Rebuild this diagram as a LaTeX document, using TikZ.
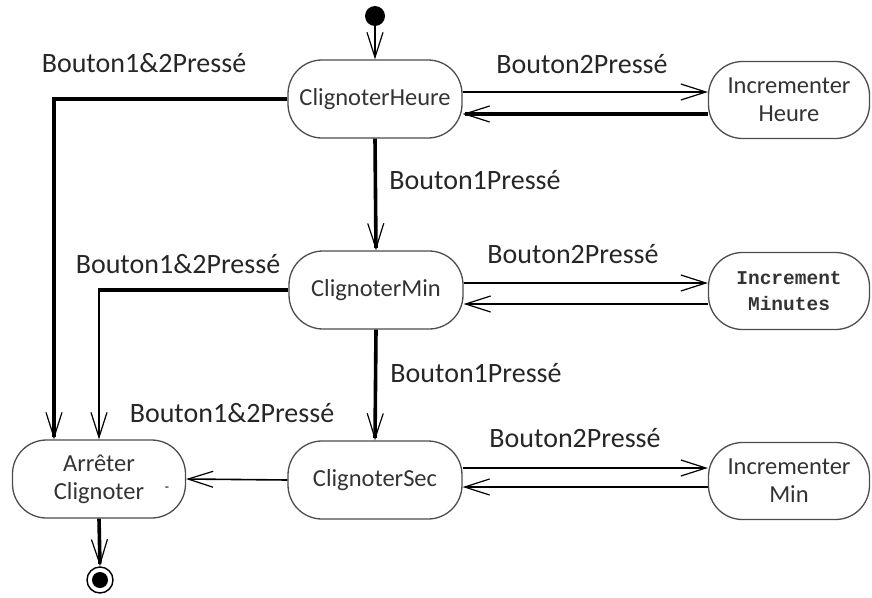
\documentclass[tikz,border=0pt]{standalone}
\usepackage{fontspec}
\setmainfont{Carlito}
\newfontfamily\monofont{Liberation Mono}
\usetikzlibrary{arrows.meta}
\begin{document}
\begin{tikzpicture}[x=1pt,y=-1pt,
  state/.style={draw=black!70, line width=1.3pt, rounded corners=34pt,
    minimum width=174pt, minimum height=78pt, align=center,
    font=\fontsize{24.5}{28}\selectfont, text=black!80, inner sep=0pt},
  incr/.style={state, minimum width=161pt, minimum height=77pt},
  lbl/.style={font=\fontsize{28}{30}\selectfont, text=black!85, inner sep=0pt},
  tip/.style={-{Straight Barb[length=25pt,width=16pt,line width=1.2pt]}},
  thinarrow/.style={line width=1.6pt, tip},
  thickarrow/.style={line width=3.6pt, tip}
]
\useasboundingbox (0,0) rectangle (872,597);

% states
\node[state] (H) at (375,99) {ClignoterHeure};
\node[incr] (IH) at (789,100) {Incrementer\\Heure};
\node[state] (M) at (376,290) {ClignoterMin};
\node[incr, font=\monofont\fontsize{19.5}{26}\selectfont\bfseries] (IM) at (789,291) {Increment\\Minutes};
\node[state] (S) at (375,480) {ClignoterSec};
\node[incr] (IS) at (789,481) {Incrementer\\Min};
\node[state, minimum width=173pt] (A) at (99,479) {Arrêter\\Clignoter};

% initial and final pseudo-states
\node[circle, fill=black, minimum size=20pt, inner sep=0pt] (init) at (375,16) {};
\node[circle, draw=black, line width=1.4pt, minimum size=26pt, inner sep=0pt] (fin) at (100,580) {};
\fill (fin.center) circle (8pt);

% transitions
\draw[thinarrow] (init.south) -- (H.north);
\draw[thinarrow] (H.east |- 0,92) -- (IH.west |- 0,92);
\draw[thickarrow] (IH.west |- 0,114) -- (H.east |- 0,114);
\draw[thinarrow] (M.east |- 0,283) -- (IM.west |- 0,283);
\draw[thinarrow] (IM.west |- 0,304) -- (M.east |- 0,304);
\draw[thinarrow] (S.east |- 0,468) -- (IS.west |- 0,468);
\draw[thinarrow] (IS.west |- 0,487) -- (S.east |- 0,487);
\draw[thinarrow] (S.west) -- (A.east);
\draw[thickarrow] (H.south) -- (M.north);
\draw[thickarrow] (M.south) -- (S.north);
\draw[thickarrow] (H.west) -| ([xshift=-45pt]A.north);
\coordinate (c2) at (A.north |- M.west);
\draw[line width=3.6pt] (M.west) -- ([xshift=-1pt]c2);
\draw[line width=2pt, tip] ([yshift=-1.8pt]c2) -- (A.north);
\draw[thickarrow] (A.south) -- (fin.north);

% guard labels
\node[lbl] (l1) at (144,63) {Bouton1\&2Pressé};
\node[lbl] (l2) at (582,64) {Bouton2Pressé};
\node[lbl] (l3) at (475,180) {Bouton1Pressé};
\node[lbl] (l4) at (178,264) {Bouton1\&2Pressé};
\node[lbl] (l5) at (573,254) {Bouton2Pressé};
\node[lbl] (l6) at (476,373) {Bouton1Pressé};
\node[lbl] (l7) at (232,413) {Bouton1\&2Pressé};
\node[lbl] (l8) at (575,438) {Bouton2Pressé};
\node[font=\fontsize{14}{14}\selectfont, inner sep=0pt] (dash) at (167,489) {-};
\end{tikzpicture}
\end{document}
